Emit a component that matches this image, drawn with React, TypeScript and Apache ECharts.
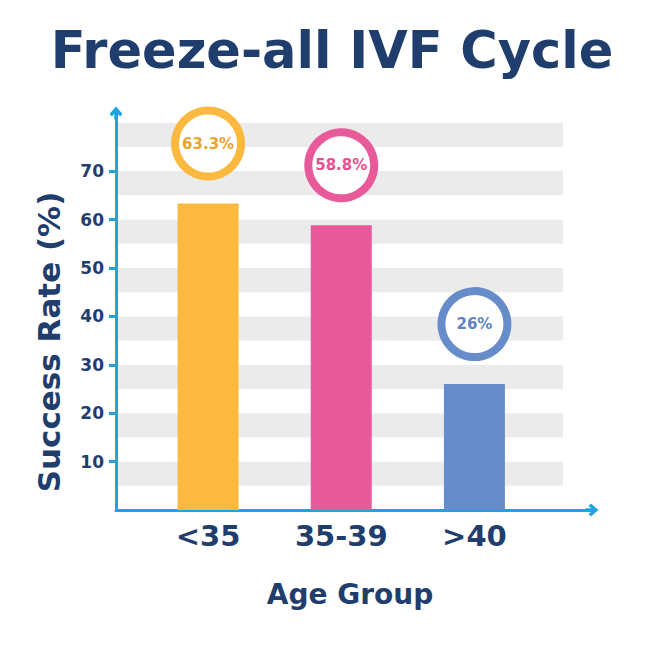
import React, { useEffect, useRef } from "react";
import * as echarts from "echarts";

const categories = ["<35", "35-39", ">40"];
const successRates = [63.3, 58.8, 26];
const barColors = ["#fbb940", "#e95a9b", "#668dc9"];
const bubbleTextColors = ["#eaa42c", "#e2508f", "#5d84c3"];
const yTickValues = [10, 20, 30, 40, 50, 60, 70];

const NAVY = "#1f3d6d";
const AXIS_BLUE = "#1ca3e2";
const FONT = "'DejaVu Sans', Verdana, sans-serif";
const ARROW = "path://M6,0 L12,7 L9.8,9.2 L7.6,6.6 L7.6,12 L4.4,12 L4.4,6.6 L2.2,9.2 L0,7 Z";

export default function App() {
  const ref = useRef<HTMLDivElement>(null);

  useEffect(() => {
    if (!ref.current) return;
    const chart = echarts.init(ref.current, null, { renderer: "svg" });
    const option: any = {
      animation: false,
      backgroundColor: "#ffffff",
      textStyle: { fontFamily: FONT },
      grid: [
        { left: 116, right: 87, top: 113, bottom: 140 },
        { left: 116, right: 58, top: 113, bottom: 140 },
        { left: 141.5, right: 109, top: 113, bottom: 140 },
      ],
      xAxis: [
        { gridIndex: 0, type: "value", show: false, min: 0, max: 1 },
        {
          gridIndex: 1,
          type: "value",
          min: 0,
          max: 1,
          axisLine: {
            show: true,
            symbol: ["none", ARROW],
            symbolSize: [15, 13],
            lineStyle: { color: AXIS_BLUE, width: 3 },
          },
          axisTick: { show: false },
          axisLabel: { show: false },
          splitLine: { show: false },
        },
        {
          gridIndex: 2,
          type: "category",
          data: categories,
          axisLine: { show: false },
          axisTick: { show: false },
          splitLine: { show: false },
          axisLabel: {
            color: NAVY,
            fontSize: 29,
            fontWeight: "bold",
            fontFamily: FONT,
            margin: 11,
          },
        },
      ],
      yAxis: [
        {
          gridIndex: 0,
          type: "value",
          position: "left",
          min: 0,
          max: 82,
          interval: 5,
          axisLine: { show: false },
          axisTick: { show: false },
          axisLabel: { show: false },
          splitLine: { show: false },
          splitArea: { show: true, areaStyle: { color: ["#ffffff", "#ebebeb"] } },
        },
        {
          gridIndex: 0,
          type: "value",
          position: "left",
          min: 0,
          max: 82,
          axisLine: {
            show: true,
            symbol: ["none", ARROW],
            symbolSize: [15, 13],
            lineStyle: { color: AXIS_BLUE, width: 3 },
          },
          axisTick: {
            show: true,
            customValues: yTickValues,
            length: 7,
            lineStyle: { color: AXIS_BLUE, width: 3 },
          },
          axisLabel: {
            customValues: yTickValues,
            color: NAVY,
            fontSize: 17,
            fontWeight: "bold",
            fontFamily: FONT,
            margin: 12,
          },
          splitLine: { show: false },
          splitArea: { show: false },
        },
        { gridIndex: 1, type: "value", show: false, min: 0, max: 82 },
        { gridIndex: 2, type: "value", show: false, min: 0, max: 82 },
      ],
      series: [
        {
          type: "bar",
          xAxisIndex: 2,
          yAxisIndex: 3,
          barWidth: 61,
          z: 3,
          data: successRates.map((v, i) => ({
            value: v,
            itemStyle: { color: barColors[i] },
          })),
        },
        {
          type: "scatter",
          xAxisIndex: 2,
          yAxisIndex: 3,
          symbol: "circle",
          symbolSize: 66,
          symbolOffset: [0, -60],
          z: 4,
          itemStyle: { opacity: 1 },
          emphasis: { disabled: true },
          data: successRates.map((v, i) => ({
            value: v,
            itemStyle: {
              color: "#ffffff",
              borderColor: barColors[i],
              borderWidth: 8,
              opacity: 1,
            },
            label: { color: bubbleTextColors[i] },
          })),
          label: {
            show: true,
            position: "inside",
            formatter: "{c}%",
            fontSize: 15,
            fontWeight: "bold",
            fontFamily: FONT,
          },
        },
      ],
      graphic: [
        {
          type: "text",
          x: 332,
          y: 50,
          style: {
            text: "Freeze-all IVF Cycle",
            fill: NAVY,
            font: `bold 51px ${FONT}`,
            textAlign: "center",
            textVerticalAlign: "middle",
          },
        },
        {
          type: "text",
          x: 49,
          y: 342,
          rotation: Math.PI / 2,
          style: {
            text: "Success Rate (%)",
            fill: NAVY,
            font: `bold 31px ${FONT}`,
            textAlign: "center",
            textVerticalAlign: "middle",
          },
        },
        {
          type: "text",
          x: 350,
          y: 594,
          style: {
            text: "Age Group",
            fill: NAVY,
            font: `bold 28px ${FONT}`,
            textAlign: "center",
            textVerticalAlign: "middle",
          },
        },
      ],
    };
    chart.setOption(option);
    return () => chart.dispose();
  }, []);

  return (
    <div
      ref={ref}
      style={{ position: "fixed", left: 0, top: 0, width: 650, height: 650 }}
    />
  );
}
